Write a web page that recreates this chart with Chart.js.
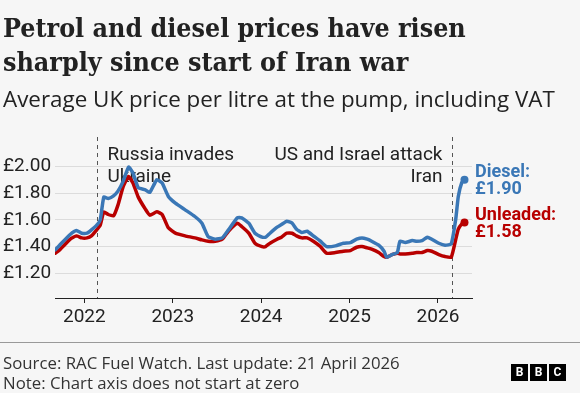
<!DOCTYPE html>
<html>
<head>
<meta charset="utf-8">
<script src="https://cdn.jsdelivr.net/npm/chart.js@4"></script>
<style>
  body { margin: 0; background: #f6f6f6; }
  #wrap { position: relative; width: 580px; height: 393px; overflow: hidden; }
  #chart { position: absolute; left: 0; top: 0; }
  .title { position: absolute; left: 3px; top: 11px; font-family: "DejaVu Serif Condensed", "DejaVu Serif", serif; font-stretch: condensed; font-weight: bold; font-size: 26.6px; line-height: 34px; color: #222; white-space: nowrap; }
  .subtitle { position: absolute; left: 3px; top: 85.5px; font: 22.4px/26px "Open Sans", sans-serif; color: #222; white-space: nowrap; }
  .rule { position: absolute; left: 0; top: 342px; width: 580px; height: 1px; background: #999; }
  .footer { position: absolute; left: 3px; top: 353px; font: 16.8px/20px "Open Sans", sans-serif; color: #333; white-space: nowrap; }
  .logo { position: absolute; left: 511px; top: 364px; display: flex; gap: 2px; }
  .logo span { width: 17px; height: 17px; background: #000; color: #fff; font: bold 12px/17px Roboto, sans-serif; text-align: center; }
</style>
</head>
<body>
<div id="wrap">
  <canvas id="chart" width="580" height="393"></canvas>
  <div class="title">Petrol and diesel prices have risen<br>sharply since start of Iran war</div>
  <div class="subtitle">Average UK price per litre at the pump, including VAT</div>
  <div class="rule"></div>
  <div class="footer">Source: RAC Fuel Watch. Last update: 21 April 2026<br>Note: Chart axis does not start at zero</div>
  <div class="logo"><span>B</span><span>B</span><span>C</span></div>
</div>
<script>
// dates as decimal years
const dates = [2021.67, 2021.72, 2021.84, 2021.91, 2021.97, 2022.03, 2022.08, 2022.14, 2022.18, 2022.22,
  2022.27, 2022.33, 2022.38, 2022.44, 2022.50, 2022.55, 2022.61, 2022.69, 2022.74, 2022.82,
  2022.88, 2022.95, 2023.03, 2023.14, 2023.25, 2023.33, 2023.40, 2023.48, 2023.56, 2023.63,
  2023.73, 2023.78, 2023.86, 2023.93, 2024.01, 2024.05, 2024.10, 2024.18, 2024.23, 2024.29,
  2024.35, 2024.40, 2024.46, 2024.52, 2024.59, 2024.67, 2024.74, 2024.84, 2024.93, 2025.01,
  2025.08, 2025.14, 2025.20, 2025.25, 2025.33, 2025.39, 2025.42, 2025.48, 2025.54, 2025.57,
  2025.63, 2025.71, 2025.76, 2025.82, 2025.88, 2025.93, 2026.01, 2026.08, 2026.15, 2026.20,
  2026.23, 2026.27, 2026.30];

const diesel = [1.375, 1.41, 1.49, 1.52, 1.50, 1.50, 1.525, 1.56, 1.60, 1.77,
  1.76, 1.78, 1.815, 1.89, 1.995, 1.95, 1.84, 1.825, 1.805, 1.90,
  1.875, 1.775, 1.725, 1.675, 1.625, 1.575, 1.475, 1.455, 1.465, 1.525,
  1.615, 1.615, 1.575, 1.50, 1.47, 1.47, 1.50, 1.545, 1.565, 1.59,
  1.575, 1.53, 1.505, 1.515, 1.48, 1.44, 1.40, 1.405, 1.425, 1.43,
  1.455, 1.465, 1.455, 1.44, 1.41, 1.365, 1.32, 1.34, 1.355, 1.44,
  1.43, 1.445, 1.44, 1.445, 1.47, 1.455, 1.425, 1.41, 1.42, 1.60,
  1.775, 1.88, 1.90];

const unleaded = [1.35, 1.375, 1.455, 1.48, 1.465, 1.465, 1.48, 1.525, 1.56, 1.66,
  1.64, 1.63, 1.71, 1.85, 1.925, 1.875, 1.77, 1.68, 1.635, 1.66,
  1.64, 1.54, 1.50, 1.48, 1.465, 1.45, 1.44, 1.44, 1.455, 1.515,
  1.575, 1.55, 1.50, 1.425, 1.40, 1.40, 1.425, 1.455, 1.47, 1.50,
  1.50, 1.48, 1.465, 1.465, 1.44, 1.40, 1.35, 1.355, 1.365, 1.37,
  1.395, 1.40, 1.39, 1.38, 1.355, 1.325, 1.32, 1.34, 1.35, 1.345,
  1.345, 1.35, 1.355, 1.355, 1.37, 1.365, 1.34, 1.325, 1.32, 1.45,
  1.53, 1.57, 1.58];

const seriesNames = ['Diesel', 'Unleaded'];
const seriesColors = ['#3a77b6', '#b80000'];

const xTicks = [2022, 2023, 2024, 2025, 2026];
const yTicks = [1.2, 1.4, 1.6, 1.8, 2.0];

// Russia invades Ukraine 24 Feb 2022, US/Israel attack Iran end of Feb 2026
const eventDates = [2022.148, 2026.158];
const eventLabels = [['Russia invades', 'Ukraine'], ['US and Israel attack', 'Iran']];
const eventAlign = ['left', 'right'];

Chart.defaults.font.family = 'Roboto, sans-serif';
Chart.defaults.color = '#222';

const toPoints = vals => dates.map((d, i) => ({ x: d, y: vals[i] }));
const lastOnly = ctx => ctx.dataIndex === dates.length - 1 ? 4 : 0;

// dashed event lines + their text, drawn under the lines
const eventsPlugin = {
  id: 'events',
  beforeDatasetsDraw(chart) {
    const { ctx, chartArea, scales: { x } } = chart;
    ctx.save();
    eventDates.forEach((d, i) => {
      const px = Math.round(x.getPixelForValue(d)) + 0.5;
      ctx.strokeStyle = '#555';
      ctx.lineWidth = 1;
      ctx.setLineDash([4, 4]);
      ctx.beginPath();
      ctx.moveTo(px, chartArea.top);
      ctx.lineTo(px, chartArea.bottom);
      ctx.stroke();
      ctx.setLineDash([]);
      ctx.font = '19px Roboto, sans-serif';
      ctx.fillStyle = '#222';
      ctx.textBaseline = 'alphabetic';
      const left = eventAlign[i] === 'left';
      ctx.textAlign = left ? 'left' : 'right';
      eventLabels[i].forEach((t, j) => {
        ctx.fillText(t, left ? px + 10 : px - 10, chartArea.top + 23 + j * 22);
      });
    });
    ctx.restore();
  },
  // series labels at the end of each line
  afterDatasetsDraw(chart) {
    const { ctx, chartArea } = chart;
    ctx.save();
    ctx.font = 'bold 18px Roboto, sans-serif';
    ctx.textAlign = 'left';
    ctx.textBaseline = 'alphabetic';
    chart.data.datasets.forEach((ds, i) => {
      const meta = chart.getDatasetMeta(i);
      const last = meta.data[meta.data.length - 1];
      const val = ds.data[ds.data.length - 1].y;
      ctx.fillStyle = seriesColors[i];
      ctx.fillText(seriesNames[i] + ':', chartArea.right + 3, last.y - 2.5);
      ctx.fillText('£' + val.toFixed(2), chartArea.right + 3, last.y + 14);
    });
    ctx.restore();
  }
};

new Chart(document.getElementById('chart'), {
  type: 'line',
  data: {
    datasets: [
      {
        label: seriesNames[0],
        data: toPoints(diesel),
        borderColor: seriesColors[0],
        backgroundColor: seriesColors[0],
        pointRadius: lastOnly,
        pointBorderWidth: 0
      },
      {
        label: seriesNames[1],
        data: toPoints(unleaded),
        borderColor: seriesColors[1],
        backgroundColor: seriesColors[1],
        pointRadius: lastOnly,
        pointBorderWidth: 0
      }
    ]
  },
  options: {
    responsive: false,
    animation: false,
    events: [],
    layout: { padding: { left: 3, right: 108, top: 137, bottom: 58 } },
    elements: {
      line: { borderWidth: 3.5, tension: 0.15, borderCapStyle: 'round', borderJoinStyle: 'round' }
    },
    plugins: { legend: { display: false }, tooltip: { enabled: false } },
    scales: {
      x: {
        type: 'linear',
        min: 2021.668,
        max: 2026.385,
        afterBuildTicks: s => { s.ticks = xTicks.map(v => ({ value: v })); },
        afterFit: s => { s.height = 37; },
        ticks: { font: { size: 19 }, color: '#222', padding: 3, maxRotation: 0, autoSkip: false, callback: v => String(v) },
        grid: { drawOnChartArea: false, drawTicks: true, tickLength: 5, color: '#222' },
        border: { display: true, color: '#222', width: 1 }
      },
      y: {
        min: 1.015,
        max: 2.22,
        afterBuildTicks: s => { s.ticks = yTicks.map(v => ({ value: v })); },
        afterFit: s => { s.width = 52; },
        ticks: { font: { size: 19 }, color: '#222', crossAlign: 'far', callback: v => '£' + v.toFixed(2) },
        grid: { color: '#dcdcdc', drawTicks: false },
        border: { display: false }
      }
    }
  },
  plugins: [eventsPlugin]
});
</script>
</body>
</html>
